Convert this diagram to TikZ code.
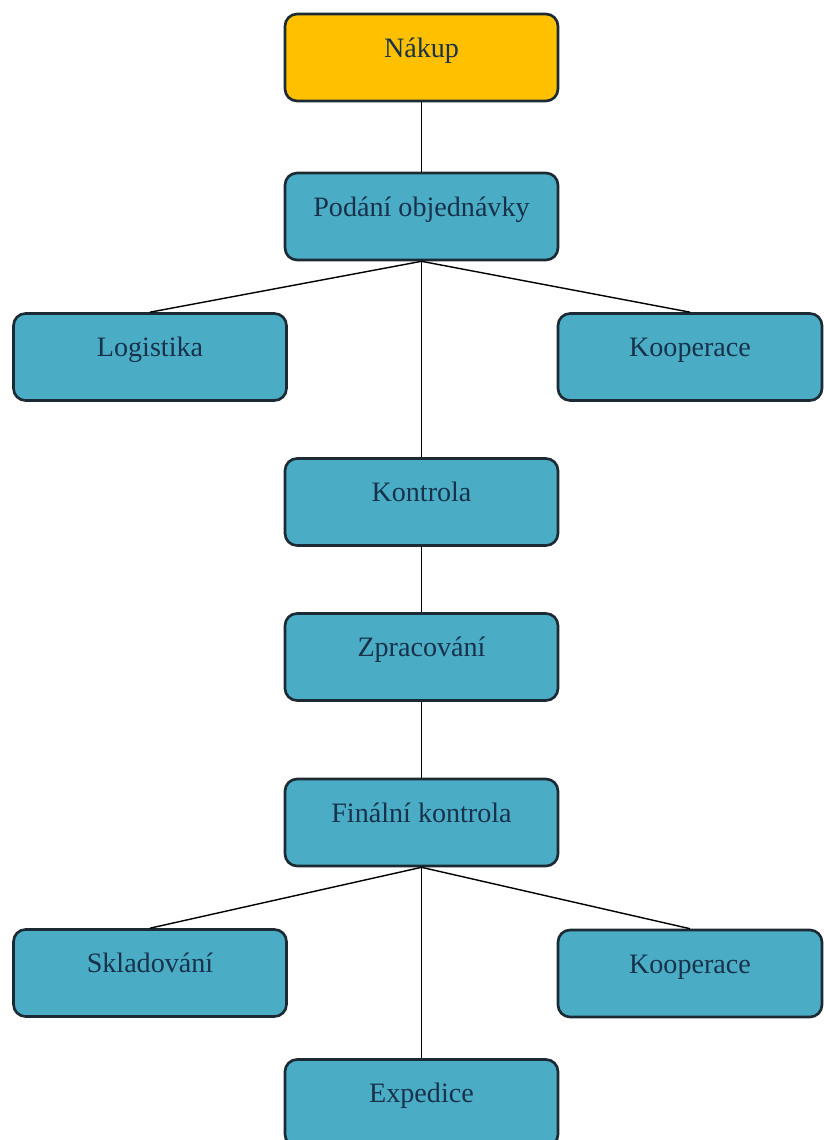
\documentclass[tikz,border=0pt]{standalone}
\usepackage{fontspec}
\setmainfont{Liberation Serif}
\usetikzlibrary{positioning}

\definecolor{boxblue}{HTML}{4BACC6}
\definecolor{boxorange}{HTML}{FFC000}
\definecolor{boxline}{HTML}{1C2A33}
\definecolor{boxtext}{HTML}{17324A}

\tikzset{
  box/.style={draw=boxline,line width=1.5pt,fill=boxblue,rounded corners=0.24cm,
    minimum width=5.46cm,inner xsep=0pt,inner ysep=0pt,
    text height=0.86cm,text depth=0.88cm,text=boxtext,
    font=\fontsize{16}{18}\selectfont},
  topbox/.style={box,fill=boxorange},
  link/.style={draw=black,line width=0.8pt}
}

\begin{document}
\begin{tikzpicture}[x=0.02cm,y=-0.02cm]
  \useasboundingbox (0,0) rectangle (824,1140);
  \clip (0,0) rectangle (824,1140);

  \node[topbox] (nakup) at (421.5,57.5) {Nákup};
  \node[box] (podani) at (421.5,216.5) {Podání objednávky};
  \node[box] (logistika) at (150,357) {Logistika};
  \node[box,minimum width=5.28cm] (koop1) at (690,357) {Kooperace};
  \node[box] (kontrola) at (421.5,502) {Kontrola};
  \node[box] (zprac) at (421.5,657) {Zpracování};
  \node[box] (finalni) at (421.5,822.5) {Finální kontrola};
  \node[box] (sklad) at (150,973) {Skladování};
  \node[box,minimum width=5.28cm] (koop2) at (690,973.5) {Kooperace};
  \node[box] (expedice) at (421.5,1103) {Expedice};

  \draw[link] (nakup.south) -- (podani.north);
  \draw[link] (podani.south) -- (logistika.north);
  \draw[link] (podani.south) -- (koop1.north);
  \draw[link] (podani.south) -- (kontrola.north);
  \draw[link] (kontrola.south) -- (zprac.north);
  \draw[link] (zprac.south) -- (finalni.north);
  \draw[link] (finalni.south) -- (sklad.north);
  \draw[link] (finalni.south) -- (koop2.north);
  \draw[link] (finalni.south) -- (expedice.north);
\end{tikzpicture}
\end{document}
